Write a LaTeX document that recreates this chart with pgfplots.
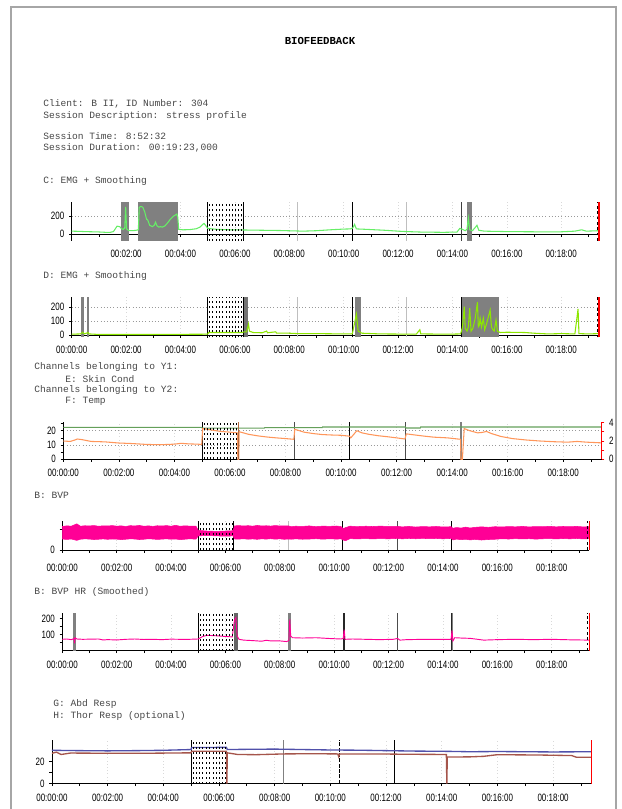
\documentclass[border=0pt]{standalone}
\usepackage{pgfplots}
\pgfplotsset{compat=1.18}
\usepackage{fontspec}
\setmainfont{Liberation Mono}
\newfontfamily\tickfont[FakeStretch=0.75]{Liberation Sans}
\newcommand\ticklab{\tickfont\fontsize{8}{9}\selectfont}
\definecolor{emgc}{RGB}{102,238,102}
\definecolor{emgd}{RGB}{140,230,0}
\definecolor{scorange}{RGB}{255,150,90}
\definecolor{tgreen}{RGB}{100,160,90}
\definecolor{bvp}{RGB}{255,0,150}
\definecolor{respblue}{RGB}{80,80,170}
\definecolor{respbrown}{RGB}{165,85,75}
\definecolor{band}{RGB}{128,128,128}
\definecolor{txt}{RGB}{70,70,70}
\pgfplotsset{
  bio/.style={
    scale only axis, clip=false, anchor=south west,
    xmin=0, xmax=1163, ymin=0,
    axis x line*=bottom, axis y line*=left,
    axis line style={black, line width=0.6pt, -},
    tick align=outside, major tick length=2pt, minor tick length=2pt,
    tick style={black, line width=0.5pt},
    xtick={0,120,240,360,480,600,720,840,960,1080},
    minor xtick={60,180,300,420,540,660,780,900,1020,1140},
    xticklabels={00:00:00,00:02:00,00:04:00,00:06:00,00:08:00,00:10:00,00:12:00,00:14:00,00:16:00,00:18:00},
    ticklabel style={font=\ticklab, text=black},
    xticklabel style={anchor=center, inner sep=0pt},
    x grid style={gray!30, dotted, line width=0.5pt},
    y grid style={gray!80, dotted, line width=0.6pt},
  }
}
\newcommand\dashreg[2]{%
  \pgfplotsinvokeforeach{304,311,318,325,333,340,347,354,361,368,374}{%
    \draw[black, line width=0.4pt, dash pattern=on 1.5pt off 2.2pt] (axis cs:##1,#1) -- (axis cs:##1,#2);}}
\newcommand\vl[4]{\draw[#1] (axis cs:#2,#3) -- (axis cs:#2,#4);}
\newcommand\finmark[2]{%
  \draw[red, line width=0.9pt] (axis cs:1163,#1) -- (axis cs:1163,#2);
  \draw[black, line width=0.7pt, dash pattern=on 2pt off 2pt] (axis cs:1160,#1) -- (axis cs:1160,#2);}
\begin{document}
\begin{tikzpicture}[x=0.75pt, y=-0.75pt]
\path[use as bounding box] (0,0) rectangle (621,809);
\draw[gray!70, line width=0.8pt] (11,809) -- (11,7) -- (616,7) -- (616,809);
\begin{scope}[every node/.style={anchor=west, inner sep=0pt, text=txt, font=\fontsize{7.2}{8}\selectfont}]
\node[anchor=center, text=black, font=\bfseries\fontsize{8}{9}\selectfont] at (320,41) {BIOFEEDBACK};
\node at (43,104) {Client: B II, ID Number: 304};
\node at (43,116) {Session Description: stress profile};
\node at (43,136) {Session Time: 8:52:32};
\node at (43,148) {Session Duration: 00:19:23,000};
\node at (43,181) {C: EMG + Smoothing};
\node at (43,276) {D: EMG + Smoothing};
\node at (34,367) {Channels belonging to Y1:};
\node at (65,379) {E: Skin Cond};
\node at (34,390) {Channels belonging to Y2:};
\node at (65,401) {F: Temp};
\node at (34,495) {B: BVP};
\node at (34,592) {B: BVP HR (Smoothed)};
\node at (53,704) {G: Abd Resp};
\node at (53,716) {H: Thor Resp (optional)};
\end{scope}

% ---------------- C: EMG
\begin{axis}[bio, at={(53.78pt,-175.73pt)}, width=395.4pt, height=24.3pt, ymax=360,
  ytick={0,200}, yticklabels={0,200},
  xticklabels={,00:02:00,00:04:00,00:06:00,00:08:00,00:10:00,00:12:00,00:14:00,00:16:00,00:18:00},
  xmajorgrids, ymajorgrids, xticklabel style={yshift=-13pt}]
\fill[band] (axis cs:108,-70) rectangle (axis cs:127,360);
\fill[band] (axis cs:146,-70) rectangle (axis cs:234,360);
\fill[band] (axis cs:871,-70) rectangle (axis cs:884,360);
\draw[black, line width=0.6pt] (axis cs:0,-70) -- (axis cs:0,0);
\vl{black, line width=0.6pt}{300}{-70}{360}
\vl{black, line width=0.8pt}{378}{-70}{360}
\vl{gray!50, line width=0.8pt}{499}{-70}{360}
\vl{black, line width=0.8pt}{619}{-70}{360}
\vl{gray!50, line width=0.8pt}{739}{-70}{360}
\vl{black!75, line width=0.8pt}{859}{-70}{360}
\addplot[emgc, line width=0.8pt] coordinates {
(0,35)(15,33)(30,30)(45,28)(60,26)(75,22)(85,22)(92,30)(96,60)(100,90)(106,85)(110,60)(114,55)(117,70)(119,305)(121,60)(126,40)(135,40)(142,45)(147,50)(149,300)(153,310)(157,300)(161,250)(165,170)(168,155)(172,100)(178,85)(182,100)(185,135)(188,95)(192,80)(196,85)(200,80)(206,95)(212,130)(218,170)(224,200)(229,215)(232,225)(234,190)(236,55)(245,50)(260,52)(275,62)(283,80)(289,110)(292,120)(296,95)(300,65)(320,55)(350,50)(380,48)(420,45)(460,42)(490,38)(510,35)(540,40)(570,50)(600,58)(615,60)(620,70)(624,110)(628,60)(650,55)(690,45)(730,32)(770,25)(820,22)(850,25)(856,65)(862,55)(868,40)(872,55)(875,180)(878,50)(884,40)(890,75)(894,100)(898,45)(910,35)(960,30)(1020,28)(1080,28)(1110,35)(1125,50)(1135,35)(1163,40)};
\dashreg{-70}{360}
\finmark{-70}{360}
\end{axis}

% ---------------- D: EMG
\begin{axis}[bio, at={(53.78pt,-251.48pt)}, width=395.4pt, height=28.88pt, ymax=275,
  ytick={0,100,200}, yticklabels={0,100,200},
  xmajorgrids, ymajorgrids, xticklabel style={yshift=-8.6pt}]
\fill[band] (axis cs:20,-15) rectangle (axis cs:28,275);
\fill[band] (axis cs:34,-15) rectangle (axis cs:39,275);
\fill[black!55] (axis cs:379,-15) rectangle (axis cs:389,275);
\fill[band] (axis cs:626,-15) rectangle (axis cs:638,275);
\fill[band] (axis cs:859,-15) rectangle (axis cs:943,275);
\vl{black, line width=0.6pt}{300}{-15}{275}
\vl{black, line width=0.8pt}{378}{-15}{275}
\vl{gray!50, line width=0.8pt}{499}{-15}{275}
\vl{black, line width=0.8pt}{619}{-15}{275}
\vl{gray!50, line width=0.8pt}{739}{-15}{275}
\vl{black, line width=0.8pt}{859}{-15}{275}
\addplot[emgd, line width=0.8pt] coordinates {
(0,8)(20,10)(24,22)(28,10)(36,20)(38,10)(60,6)(120,6)(180,6)(240,7)(300,8)(302,20)(340,20)(376,20)(380,25)(386,25)(390,80)(392,30)(400,20)(420,18)(430,30)(432,18)(450,25)(452,15)(480,15)(500,12)(540,12)(600,10)(619,10)(628,150)(632,30)(640,15)(680,10)(760,8)(768,40)(770,10)(830,8)(858,10)(862,60)(866,205)(868,50)(872,30)(875,60)(878,193)(881,30)(885,50)(890,120)(895,236)(897,60)(899,70)(901,121)(904,60)(908,121)(911,40)(915,80)(923,180)(926,60)(929,40)(932,30)(936,109)(939,30)(945,20)(960,22)(1000,20)(1020,15)(1050,10)(1080,12)(1110,10)(1117,188)(1119,12)(1140,10)(1163,12)};
\dashreg{-15}{275}
\finmark{-15}{275}
\end{axis}

% ---------------- E/F: Skin Cond + Temp
\begin{axis}[bio, at={(47.48pt,-344.48pt)}, width=403.8pt, height=28.2pt, ymax=26.3,
  ytick={0,10,20}, yticklabels={0,10,20}, minor ytick={5,15,25},
  xmajorgrids, ymajorgrids, xticklabel style={yshift=-8.3pt}]
\vl{black, line width=0.6pt}{300}{0}{26.3}
\vl{black!70, line width=0.8pt}{499}{0}{26.3}
\vl{black, line width=0.9pt}{619}{0}{26.3}
\vl{black!70, line width=0.8pt}{739}{0}{26.3}
\vl{gray, line width=0.8pt}{859}{0}{26.3}
\addplot[tgreen, line width=0.8pt] coordinates {
(0,22.4)(299,22.4)(300,21.8)(434,21.8)(435,22.1)(559,22.1)(560,22.6)(739,22.6)(740,21.9)(771,21.9)(772,22.6)(1163,22.6)};
\addplot[scorange, line width=0.8pt] coordinates {
(0,12.8)(15,12.5)(25,13.5)(30,14.2)(40,13.8)(60,12.5)(90,12.2)(120,11.4)(150,11.0)(180,10.4)(210,10.2)(240,10.6)(255,11.2)(270,10.8)(290,10.6)(299,10.4)(301,21.5)(320,20.5)(340,19.5)(360,19.0)(376,18.5)(377,0)(379,0)(380,19.3)(400,17.5)(420,16.4)(440,15.6)(460,15)(480,14.5)(498,14.0)(500,21)(520,19)(540,18)(560,17.3)(580,17)(600,16.8)(618,16.2)(621,15)(634,20)(645,18.5)(660,17.5)(680,16.5)(700,15.8)(720,15)(738,14.2)(741,17.8)(760,17)(780,16.2)(800,15.5)(830,15)(858,14)(859,0)(862,0)(866,21.5)(878,20)(895,18.5)(905,18.8)(914,19.5)(925,18)(945,16)(970,14.5)(1000,13.5)(1030,12.8)(1060,12.3)(1090,12)(1110,12.5)(1130,12)(1163,11.5)};
\vl{scorange!70!black, line width=0.8pt}{378}{0}{26.3}
\dashreg{0}{26.3}
\end{axis}
\begin{axis}[scale only axis, anchor=south west, at={(47.48pt,-344.48pt)}, width=403.8pt, height=28.2pt,
  xmin=0, xmax=1163, ymin=0, ymax=4.1, axis x line=none, axis y line*=right,
  axis line style={red, line width=0.9pt, -}, ytick={0,2,4}, yticklabels={0,2,4}, minor ytick={1,3},
  tick align=outside, major tick length=2pt, minor tick length=2pt, tick style={red, line width=0.5pt},
  ticklabel style={font=\ticklab, text=black}]
\addplot[draw=none] coordinates {(0,0)(1163,4)};
\end{axis}

% ---------------- B: BVP
\begin{axis}[bio, at={(46.73pt,-412.5pt)}, width=395.25pt, height=21.98pt, ymax=42.5,
  ytick={0,30}, yticklabels={0,}, xmajorgrids, xticklabel style={yshift=-11.25pt}]
\vl{black, line width=0.6pt}{300}{0}{42.5}
\vl{black, line width=0.8pt}{378}{0}{42.5}
\vl{gray!50, line width=0.8pt}{499}{0}{42.5}
\vl{black, line width=0.9pt}{619}{0}{42.5}
\vl{black!70, line width=0.5pt}{739}{0}{42.5}
\vl{black, line width=0.9pt}{859}{0}{42.5}
\addplot[fill=bvp, draw=bvp, line width=0.4pt] coordinates {
(0,34.2)(10,35.0)(20,34.6)(32,38)(40,34.5)(50,35.2)(60,34.9)(70,35.5)(80,34.4)(90,35.1)(100,34.8)(110,35.4)(120,34.6)(130,35.0)(140,34.2)(150,35.3)(160,34.9)(170,35.6)(180,34.5)(190,35.0)(200,34.3)(210,35.2)(220,34.8)(230,35.4)(240,34.5)(250,35.8)(260,34.4)(270,35.1)(280,34.7)(295,34.5)(300,28.5)(320,27.5)(340,27.0)(360,27.5)(377,28.0)(380,35.0)(390,35.4)(400,34.8)(410,35.3)(420,34.6)(430,35.6)(440,34.9)(450,35.2)(460,34.7)(470,35.5)(480,34.8)(490,35.1)(499,35.0)(505,33.8)(515,34.5)(530,34.2)(545,34.9)(560,33.9)(575,34.6)(590,34.3)(605,34.8)(615,34.0)(620,31.0)(625,32.5)(635,34.6)(650,33.9)(670,34.5)(685,34.0)(700,34.6)(720,34.2)(739,34.4)(750,33.5)(765,34.2)(780,33.3)(795,34.0)(810,33.6)(825,34.1)(840,33.4)(858,33.8)(862,31.5)(870,32.6)(880,31.8)(890,33.2)(900,31.9)(910,32.8)(925,33.6)(940,32.9)(955,33.8)(970,33.4)(985,34.0)(1000,33.6)(1015,34.2)(1030,33.5)(1045,34.0)(1060,33.7)(1075,34.3)(1090,33.6)(1105,34.1)(1120,33.8)(1135,34.2)(1150,33.5)(1163,33.9)
(1163,16.5)(1150,16.0)(1135,16.8)(1120,16.2)(1105,16.7)(1090,16.0)(1075,16.6)(1060,16.3)(1045,15.8)(1030,16.4)(1015,16.0)(1000,16.5)(985,15.9)(970,16.3)(955,15.6)(940,15.2)(925,14.5)(910,15.4)(900,14.6)(890,15.6)(880,15.0)(870,15.8)(862,14.6)(858,16.8)(840,16.2)(825,16.8)(810,16.4)(795,16.9)(780,16.3)(765,16.8)(750,16.2)(739,16.8)(720,16.2)(700,16.6)(685,16.0)(670,16.6)(650,16.1)(635,16.5)(625,13.5)(620,14.5)(615,16.2)(605,15.8)(590,16.3)(575,15.7)(560,16.4)(545,15.9)(530,15.6)(515,16.2)(505,15.6)(499,16.0)(490,15.5)(480,16.2)(470,15.7)(460,16.4)(450,15.8)(440,16.2)(430,15.5)(420,16.1)(410,15.6)(400,16.3)(390,15.8)(380,16.0)(377,20.5)(360,20.0)(340,20.5)(320,21.0)(300,20.5)(295,15.8)(280,16.2)(270,15.6)(260,15.0)(250,16.0)(240,15.6)(230,16.2)(220,15.8)(210,15.3)(200,15.9)(190,16.3)(180,15.6)(170,15.2)(160,15.9)(150,16.2)(140,15.6)(130,15.1)(120,15.7)(110,16.0)(100,15.5)(90,16.1)(80,15.6)(70,15.2)(60,15.8)(50,16.2)(40,15.6)(32,14.0)(20,15.9)(10,15.4)(0,15.8)} -- cycle;
\dashreg{0}{42.5}
\finmark{0}{42.5}
\end{axis}

% ---------------- B: BVP HR
\begin{axis}[bio, at={(46.73pt,-487.88pt)}, width=395.25pt, height=28.43pt, ymax=237,
  ytick={50,100,150,200}, yticklabels={,100,,200}, xmajorgrids, xticklabel style={yshift=-8.4pt}]
\fill[band] (axis cs:23,0) rectangle (axis cs:30,237);
\vl{black, line width=0.6pt}{300}{0}{237}
\fill[black!60] (axis cs:378,0) rectangle (axis cs:387,237);
\fill[band] (axis cs:499,0) rectangle (axis cs:505,237);
\fill[black!85] (axis cs:619,0) rectangle (axis cs:624,237);
\vl{black!70, line width=0.5pt}{739}{0}{237}
\fill[black!85] (axis cs:857,0) rectangle (axis cs:860,237);
\fill[band] (axis cs:860,0) rectangle (axis cs:863,237);
\addplot[bvp, line width=0.7pt] coordinates {
(0,70)(10,72)(20,68)(26,75)(27,45)(28,80)(32,72)(45,70)(60,71)(80,72)(90,66)(100,68)(120,66)(140,70)(160,72)(180,69)(200,70)(220,68)(240,71)(260,70)(280,70)(300,72)(310,88)(320,95)(340,92)(360,88)(375,85)(380,190)(383,205)(386,90)(390,70)(400,65)(420,62)(440,58)(450,64)(460,60)(480,60)(495,56)(500,62)(502,194)(504,90)(508,80)(530,78)(560,80)(590,75)(615,72)(620,75)(622,131)(624,70)(640,72)(670,70)(700,68)(730,70)(740,75)(745,65)(760,68)(800,70)(858,70)(860,125)(862,60)(866,80)(880,78)(900,76)(930,65)(960,68)(1000,70)(1040,68)(1080,70)(1120,67)(1163,65)};
\dashreg{0}{237}
\finmark{0}{237}
\end{axis}

% ---------------- G/H: Resp
\begin{axis}[bio, at={(38.93pt,-587.63pt)}, width=404.78pt, height=32.55pt, ymax=39.6,
  ytick={0,10,20}, yticklabels={0,,20}, xmajorgrids, xticklabel style={yshift=-8.5pt}]
\vl{black, line width=0.6pt}{300}{0}{39.6}
\vl{gray, line width=0.6pt}{499}{0}{39.6}
\vl{black, line width=0.9pt, dash pattern=on 3pt off 1pt}{619}{0}{39.6}
\vl{black, line width=0.8pt}{739}{0}{39.6}
\addplot[respblue, line width=1pt] coordinates {
(0,30.3)(60,30.0)(120,29.8)(180,30.0)(240,30.3)(300,31.0)(301,32.8)(376,33.0)(378,31.0)(420,31.2)(480,31.4)(540,31.0)(600,30.6)(660,30.4)(720,30.0)(780,29.6)(840,29.4)(860,29.3)(900,29.0)(960,29.2)(1020,29.0)(1080,28.8)(1163,29.0)};
\addplot[respbrown, line width=1pt] coordinates {
(0,27.6)(10,28.6)(20,26.5)(40,27.8)(120,27.6)(200,27.6)(300,28.0)(301,29.5)(376,29.5)(377,0)(378,28)(400,26.5)(440,26.3)(500,27.0)(560,27.2)(616,27.0)(618,24.5)(620,27.0)(700,27.0)(760,26.7)(850,26.5)(851,0)(852,24.2)(900,24.3)(930,24.8)(960,26.3)(1050,26.0)(1120,25.5)(1130,24.0)(1163,24.0)};
\dashreg{0}{39.6}
\draw[red, line width=1pt] (axis cs:1163,0) -- (axis cs:1163,39.6);
\end{axis}
\end{tikzpicture}
\end{document}
